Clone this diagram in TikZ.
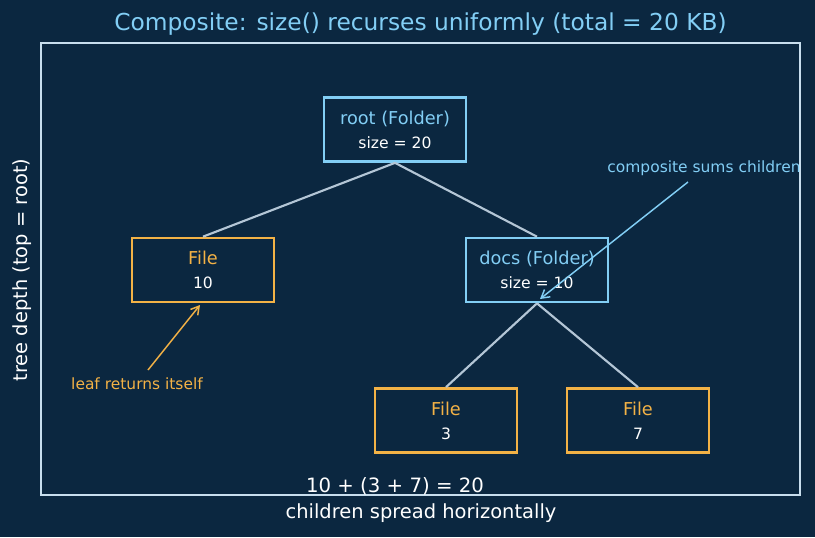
\documentclass[tikz,border=0pt]{standalone}
\usepackage{fontspec}
\setmainfont{DejaVu Sans}
\usetikzlibrary{arrows.meta}
\definecolor{bgnavy}{RGB}{11,39,64}
\definecolor{framecol}{RGB}{200,222,238}
\definecolor{foldercol}{RGB}{130,206,245}
\definecolor{filecol}{RGB}{243,178,70}
\definecolor{edgecol}{RGB}{180,198,214}
\tikzset{
  folder/.style={draw=foldercol,line width=2pt,minimum width=106.5pt,minimum height=48pt,align=center,inner sep=0pt},
  leaf/.style={draw=filecol,line width=2pt,minimum width=106.5pt,minimum height=48pt,align=center,inner sep=0pt},
  branch/.style={edgecol,line width=1.6pt},
  note/.style={font=\fontsize{11.6}{13}\selectfont,inner sep=0pt}
}
\newcommand{\boxtext}[3]{{\color{#1}\fontsize{13.3}{15}\selectfont #2}\\[6pt]{\color{white}\fontsize{11.7}{13}\selectfont #3}}
\begin{document}
\begin{tikzpicture}[x=0.75pt,y=-0.75pt]
  \fill[bgnavy] (0,0) rectangle (815,537);
  \useasboundingbox (0,0) rectangle (815,537);
  \draw[framecol,line width=1.1pt] (41,43) rectangle (800,495);
  % title and axis labels
  \node[foldercol,font=\fontsize{17.5}{20}\selectfont] (title) at (420.5,24) {Composite: size() recurses uniformly (total = 20 KB)};
  \node[white,font=\fontsize{14.6}{17}\selectfont] (xlabel) at (421,513) {children spread horizontally};
  \node[white,font=\fontsize{14.6}{17}\selectfont,rotate=90] (ylabel) at (22,270) {tree depth (top = root)};
  % tree
  \node[folder] (root) at (395,129.5) {\boxtext{foldercol}{root (Folder)}{size = 20}};
  \node[leaf] (file10) at (203,270) {\boxtext{filecol}{File}{10}};
  \node[folder] (docs) at (537,270) {\boxtext{foldercol}{docs (Folder)}{size = 10}};
  \node[leaf] (file3) at (446,420.5) {\boxtext{filecol}{File}{3}};
  \node[leaf] (file7) at (638,420.5) {\boxtext{filecol}{File}{7}};
  \draw[branch] (root.south) -- (file10.north);
  \draw[branch] (root.south) -- (docs.north);
  \draw[branch] (docs.south) -- (file3.north);
  \draw[branch] (docs.south) -- (file7.north);
  % annotations
  \node[note,foldercol] (compnote) at (704,168) {composite sums children};
  \coordinate (comptip) at (540,299);
  \draw[foldercol,line width=1.1pt,-{Straight Barb[length=6pt,width=7pt]}] (688,182) -- (comptip);
  \node[note,filecol] (leafnote) at (137,384) {leaf returns itself};
  \coordinate (leaftip) at (200,305);
  \draw[filecol,line width=1.1pt,-{Straight Barb[length=6pt,width=7pt]}] (148,370) -- (leaftip);
  \node[white,font=\fontsize{14.8}{17}\selectfont] (sumline) at (395,486) {10 + (3 + 7) = 20};
\end{tikzpicture}
\end{document}
